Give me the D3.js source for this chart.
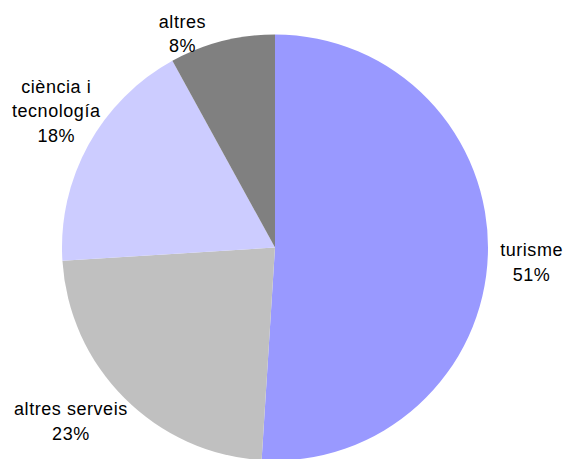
<!DOCTYPE html>
<html>
<head>
<meta charset="utf-8">
<script src="https://cdn.jsdelivr.net/npm/d3@7"></script>
<style>
  html, body { margin: 0; padding: 0; background: #fff; }
  svg { display: block; }
  text { font-family: "Liberation Sans", Arial, sans-serif; font-size: 18px; letter-spacing: 0.55px; fill: #000; }
</style>
</head>
<body>
<svg id="chart" width="565" height="459"></svg>
<script>
// ---- data ----
const categories = ["turisme", "altres serveis", "ciència i tecnologia", "altres"];
const labelLines = [["turisme"], ["altres serveis"], ["ciència i", "tecnología"], ["altres"]];
const values = [51, 23, 18, 8];
const colors = ["#9999FF", "#C0C0C0", "#CCCCFF", "#808080"];

// ---- layout (not data) ----
const W = 565, H = 459;
const cx = 275, cy = 247.5, R = 213;
const lineH = 24.5;
// label placement: extra rotation (deg) from slice mid-angle and distance from centre
const labelShift = [1.5, 4.6, 3.2, -9.0];
const labelDist  = [257, 268, 258, 233];

const svg = d3.select("#chart");
const g = svg.append("g").attr("transform", `translate(${cx},${cy})`);

const pie = d3.pie().sort(null).value(d => d)(values);
const arc = d3.arc().innerRadius(0).outerRadius(R);
const fmt = d3.format(".0%");
const total = d3.sum(values);

g.selectAll("path.slice")
  .data(pie)
  .join("path")
  .attr("class", "slice")
  .attr("d", arc)
  .attr("fill", (d, i) => colors[i]);

pie.forEach((d, i) => {
  const mid = (d.startAngle + d.endAngle) / 2 + labelShift[i] * Math.PI / 180;
  const x = labelDist[i] * Math.sin(mid);
  const y = -labelDist[i] * Math.cos(mid);
  const lines = labelLines[i].concat([fmt(values[i] / total)]);
  const n = lines.length;
  const t = g.append("text").attr("text-anchor", "middle");
  lines.forEach((ln, k) => {
    t.append("tspan")
      .attr("x", x)
      .attr("y", y + 6.3 + (k - (n - 1) / 2) * lineH)
      .text(ln);
  });
});
</script>
</body>
</html>
